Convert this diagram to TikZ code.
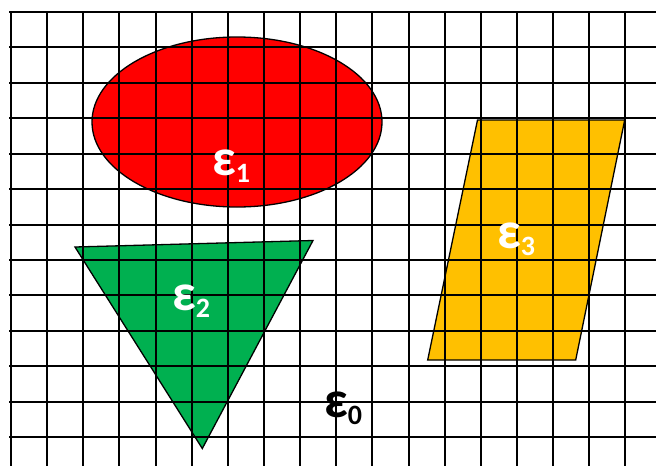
\documentclass[tikz,border=0pt]{standalone}
\usepackage{fontspec}
\setmainfont{Carlito}
\definecolor{redfill}{HTML}{FF0000}
\definecolor{greenfill}{HTML}{00B050}
\definecolor{goldfill}{HTML}{FFC000}
\tikzset{
  gridline/.style={line width=2pt, black},
  shapeline/.style={line width=1.3pt, black, line join=miter},
  eps/.style={inner sep=0pt, anchor=base west, font=\fontsize{52}{52}\selectfont\bfseries},
}
\newcommand{\epslabel}[1]{ε\raisebox{-7pt}{\fontsize{28}{28}\selectfont #1}}
\begin{document}
\begin{tikzpicture}[x=1pt,y=-1pt]
\useasboundingbox (0,0) rectangle (656,466);
\fill[white] (0,0) rectangle (656,466);
% shapes
\draw[shapeline, fill=redfill] (237,122) ellipse [x radius=145, y radius=85];
\draw[shapeline, fill=greenfill] (75,247) -- (313,240.5) -- (202.3,448.5) -- cycle;
\draw[shapeline, fill=goldfill] (477.5,120) -- (624.7,120) -- (575.7,360) -- (427.7,360) -- cycle;
% grid
\foreach \i in {0,...,17} \draw[gridline] ({11+36.14*\i},12) -- ({11+36.14*\i},466);
\foreach \j in {0,...,12} \draw[gridline] (9,{12+35.42*\j}) -- (656,{12+35.42*\j});
% labels
\node[eps, text=white] (e1) at (212,175) {\epslabel{1}};
\node[eps, text=white] (e2) at (172,310) {\epslabel{2}};
\node[eps, text=white] (e3) at (497,248) {\epslabel{3}};
\node[eps, text=black] (e0) at (324,417) {\epslabel{0}};
\end{tikzpicture}
\end{document}
